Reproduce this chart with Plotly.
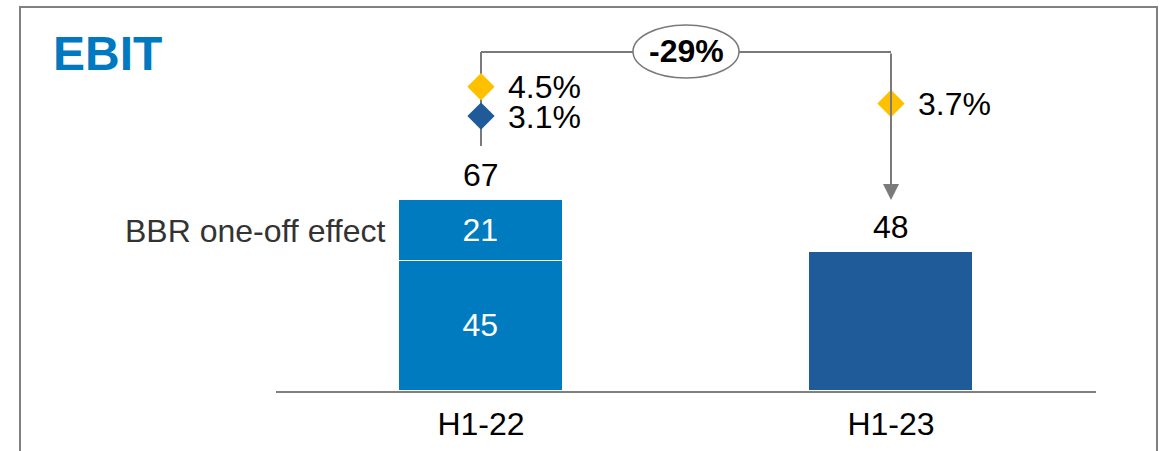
import plotly.graph_objects as go

# ---- data -------------------------------------------------------------
periods = ["H1-22", "H1-23"]
ebit_underlying = [45, 48]          # EBIT excluding the one-off
bbr_one_off = [21, None]            # BBR one-off effect (H1-22 only)
ebit_total = [67, 48]               # reported EBIT
margin_reported = [4.5, 3.7]        # EBIT margin, %
margin_adjusted = [3.1, None]       # EBIT margin excl. one-off, %
change_label = "-29%"
one_off_label = "BBR one-off effect"
title_text = "EBIT"

# ---- styling ----------------------------------------------------------
FONT = "Arial, Liberation Sans, sans-serif"
FS = 32
BLUE = "#007BC0"
DARK_BLUE = "#1F5A99"
YELLOW = "#FFC000"
GREY = "#7A7A7A"

W_FIG, H_FIG = 1171, 451
L, R, T, B = 276, 75, 0, 60          # plot area: x 276..1096, y 0..391
PW, PH = W_FIG - L - R, H_FIG - T - B


def px(x):
    """figure pixel x -> paper x"""
    return (x - L) / PW


def py(y):
    """figure pixel y -> paper y"""
    return 1 - (y - T) / PH


fig = go.Figure()

fig.add_trace(go.Bar(
    x=periods, y=ebit_underlying,
    marker=dict(color=[BLUE, DARK_BLUE], line=dict(color="white", width=1.5)),
    text=[str(ebit_underlying[0]), ""], textposition="inside",
    insidetextanchor="middle",
    textfont=dict(family=FONT, size=FS, color="white"),
    width=0.4, hoverinfo="skip", showlegend=False,
))
fig.add_trace(go.Bar(
    x=periods, y=bbr_one_off,
    marker=dict(color=BLUE, line=dict(color="white", width=1.5)),
    text=[str(bbr_one_off[0]), ""], textposition="inside",
    insidetextanchor="middle",
    textfont=dict(family=FONT, size=FS, color="white"),
    width=0.4, hoverinfo="skip", showlegend=False,
))

# margin diamonds on a secondary scale
fig.add_trace(go.Scatter(
    x=periods, y=margin_reported, mode="markers", yaxis="y2",
    marker=dict(symbol="diamond", size=21, color=YELLOW, line=dict(width=0)),
    hoverinfo="skip", showlegend=False,
))
fig.add_trace(go.Scatter(
    x=periods, y=margin_adjusted, mode="markers", yaxis="y2",
    marker=dict(symbol="diamond", size=21, color=DARK_BLUE, line=dict(width=0)),
    hoverinfo="skip", showlegend=False,
))

annotations = []
# totals above bars
for i, p in enumerate(periods):
    annotations.append(dict(
        x=p, y=ebit_total[i] if i == 1 else ebit_underlying[i] + bbr_one_off[i],
        xref="x", yref="y", text=str(ebit_total[i]), showarrow=False,
        yanchor="middle", yshift=25,
        font=dict(family=FONT, size=FS, color="black"),
    ))
# margin labels (tight boxes so stacked labels don't collide)
for i, p in enumerate(periods):
    for vals in (margin_reported, margin_adjusted):
        if vals[i] is not None:
            annotations.append(dict(
                x=p, y=vals[i], xref="x", yref="y2",
                text=f"{vals[i]:.1f}%", showarrow=False,
                xanchor="left", yanchor="middle", xshift=25, height=27,
                font=dict(family=FONT, size=FS, color="black"),
            ))
# one-off label to the left of the stacked segment
annotations.append(dict(
    x=0 - 0.2, y=ebit_underlying[0] + bbr_one_off[0] / 2, xref="x", yref="y",
    text=one_off_label, showarrow=False, xanchor="right", yanchor="middle",
    xshift=-12, font=dict(family=FONT, size=FS, color="#333333"),
))
# title
annotations.append(dict(
    x=px(51), y=py(53), xref="paper", yref="paper", text=f"<b>{title_text}</b>",
    showarrow=False, xanchor="left", yanchor="middle",
    font=dict(family=FONT, size=48, color="#0079C1"),
))
# change bubble text
annotations.append(dict(
    x=px(686), y=py(51.5), xref="paper", yref="paper",
    text=f"<b>{change_label}</b>", showarrow=False,
    xanchor="center", yanchor="middle",
    font=dict(family=FONT, size=32, color="black"),
))
# arrow down to H1-23
annotations.append(dict(
    x=periods[1], y=py(200), xref="x", yref="paper",
    ax=0, ay=-(200 - 52), axref="pixel", ayref="pixel",
    text="", showarrow=True, arrowhead=2, arrowsize=1.6, arrowwidth=2,
    arrowcolor=GREY, standoff=0,
))

shapes = [
    # outer frame (open at the bottom)
    dict(type="path", xref="paper", yref="paper",
         path=f"M {px(20)} {py(460)} L {px(20)} {py(7)} L {px(1157)} {py(7)} L {px(1157)} {py(460)}",
         line=dict(color="#808080", width=2), layer="below"),
    # bracket
    dict(type="line", xref="x", yref="paper", x0=0, x1=0, y0=py(146), y1=py(52),
         line=dict(color=GREY, width=2), layer="below"),
    dict(type="line", xref="x", yref="paper", x0=0, x1=1, y0=py(52), y1=py(52),
         line=dict(color=GREY, width=2), layer="below"),
    # change bubble
    dict(type="circle", xref="paper", yref="paper",
         x0=px(633), x1=px(739), y0=py(78), y1=py(25),
         line=dict(color=GREY, width=1.5), fillcolor="white", layer="below"),
]

fig.update_layout(
    width=W_FIG, height=H_FIG,
    margin=dict(l=L, r=R, t=T, b=B, pad=0),
    paper_bgcolor="white", plot_bgcolor="white",
    barmode="stack", bargap=0,
    xaxis=dict(type="category", range=[-0.5, 1.5], showline=True,
               linecolor="#808080", linewidth=2, ticks="", showgrid=False,
               ticklabelstandoff=4,
               tickfont=dict(family=FONT, size=FS, color="black"),
               fixedrange=True),
    yaxis=dict(range=[0, 135.3], visible=False, showgrid=False, zeroline=False),
    yaxis2=dict(range=[-9.99, 8.63], overlaying="y", visible=False,
                showgrid=False, zeroline=False),
    annotations=annotations, shapes=shapes,
    showlegend=False,
)

fig.write_html("out.html")
